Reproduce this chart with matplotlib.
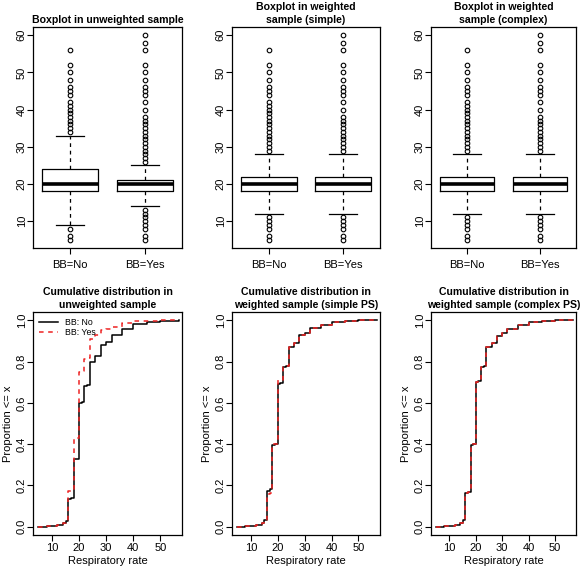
import matplotlib
matplotlib.use("Agg")
import matplotlib.pyplot as plt

plt.rcParams['font.family'] = ['Liberation Sans', 'DejaVu Sans']

groups = ['BB=No', 'BB=Yes']

# boxplot summaries: [BB=No, BB=Yes]
box_titles = ['Boxplot in unweighted sample',
              'Boxplot in weighted\nsample (simple)',
              'Boxplot in weighted\nsample (complex)']
q1 = [[18, 18], [18, 18], [18, 18]]
med = [[20, 20], [20, 20], [20, 20]]
q3 = [[24, 21], [22, 22], [22, 22]]
whislo = [[9, 14], [12, 12], [12, 12]]
whishi = [[33, 25], [28, 28], [28, 28]]

unw_no_out = [5, 6, 8, 34, 35, 36, 37, 38, 39, 40, 41, 42, 44, 45, 46, 48, 50, 52, 56]
unw_yes_out = [5, 6, 8, 9, 10, 11, 12, 13, 26, 27, 28, 29, 30, 31, 32, 33, 34, 35,
               36, 37, 38, 40, 42, 44, 45, 46, 48, 50, 52, 56, 58, 60]
sim_no_out = [5, 6, 8, 9, 10, 11, 29, 30, 31, 32, 33, 34, 35, 36, 37, 38, 39, 40,
              41, 42, 44, 45, 46, 48, 50, 52, 56]
sim_yes_out = [5, 6, 8, 9, 10, 11, 29, 30, 31, 32, 33, 34, 35, 36, 37, 38, 40, 42,
               44, 45, 46, 48, 50, 52, 56, 58, 60]
cpx_no_out = sim_no_out
cpx_yes_out = sim_yes_out
fliers = [[unw_no_out, unw_yes_out], [sim_no_out, sim_yes_out], [cpx_no_out, cpx_yes_out]]

# cumulative distributions
cdf_titles = ['Cumulative distribution in\nunweighted sample',
              'Cumulative distribution in\nweighted sample (simple PS)',
              'Cumulative distribution in\nweighted sample (complex PS)']
rate = [5, 8, 10, 12, 14, 15, 16, 17, 18, 19, 20, 21, 22, 23, 24, 26, 28, 30, 32, 36, 40, 45, 50, 57]
unw_no = [0.0, 0.003, 0.005, 0.01, 0.018, 0.03, 0.133, 0.138, 0.328, 0.33, 0.60, 0.605,
          0.683, 0.688, 0.797, 0.826, 0.878, 0.897, 0.927, 0.956, 0.98, 0.99, 0.997, 1.0]
unw_yes = [0.0, 0.002, 0.004, 0.008, 0.02, 0.03, 0.175, 0.178, 0.43, 0.432, 0.748, 0.752,
           0.813, 0.815, 0.907, 0.927, 0.951, 0.96, 0.967, 0.987, 0.995, 0.998, 1.0, 1.0]
sim_no = [0.0, 0.002, 0.004, 0.008, 0.02, 0.035, 0.174, 0.182, 0.398, 0.403, 0.69, 0.696,
          0.772, 0.777, 0.87, 0.889, 0.927, 0.94, 0.963, 0.976, 0.992, 0.996, 0.999, 1.0]
sim_yes = [0.0, 0.002, 0.004, 0.008, 0.018, 0.03, 0.16, 0.162, 0.40, 0.403, 0.71, 0.712,
           0.772, 0.777, 0.87, 0.889, 0.927, 0.94, 0.963, 0.976, 0.992, 0.996, 0.999, 1.0]
cpx_no = [0.0, 0.002, 0.004, 0.008, 0.018, 0.032, 0.163, 0.168, 0.397, 0.403, 0.70, 0.705,
          0.775, 0.78, 0.87, 0.89, 0.925, 0.94, 0.958, 0.975, 0.99, 0.996, 0.999, 1.0]
cpx_yes = [0.0, 0.002, 0.004, 0.008, 0.018, 0.032, 0.165, 0.168, 0.40, 0.403, 0.70, 0.705,
           0.775, 0.78, 0.87, 0.89, 0.925, 0.94, 0.958, 0.975, 0.99, 0.996, 0.999, 1.0]
cdf_no = [unw_no, sim_no, cpx_no]
cdf_yes = [unw_yes, sim_yes, cpx_yes]

fs = 8
tfs = 7.6
fig = plt.figure(figsize=(5.82, 5.70), dpi=100)
W, H = 582.0, 570.0
cols = [(33, 182), (232, 380), (431, 576)]


def style(ax):
    for s in ax.spines.values():
        s.set_linewidth(0.9)
    ax.tick_params(direction='out', length=4, width=0.8, labelsize=fs, pad=2)
    ax.tick_params(axis='y', pad=0.5)
    for lab in ax.get_yticklabels():
        lab.set_rotation(90)
        lab.set_va('center')


for i, (l, r) in enumerate(cols):
    # boxplots
    ax = fig.add_axes([l / W, 1 - 248 / H, (r - l) / W, (248 - 27) / H])
    stats = []
    for j, g in enumerate(groups):
        stats.append(dict(label=g, q1=q1[i][j], med=med[i][j], q3=q3[i][j],
                          whislo=whislo[i][j], whishi=whishi[i][j], fliers=fliers[i][j]))
    ax.bxp(stats, positions=[1, 2], widths=0.75,
           boxprops=dict(color='black', linewidth=0.9),
           medianprops=dict(color='black', linewidth=2.6),
           whiskerprops=dict(color='black', linewidth=0.9, linestyle=(0, (3, 3))),
           capprops=dict(color='black', linewidth=0.9),
           capwidths=0.38,
           flierprops=dict(marker='o', markerfacecolor='none', markeredgecolor='black',
                           markersize=3.3, markeredgewidth=0.8))
    ax.set_xlim(0.5, 2.5)
    ax.set_ylim(2.8, 62.2)
    ax.set_yticks([10, 20, 30, 40, 50, 60])
    ax.set_title(box_titles[i], fontsize=tfs, fontweight='bold', pad=3, linespacing=1.3)
    style(ax)
    ax.tick_params(axis='x', pad=5)

    # cumulative distributions
    ax = fig.add_axes([l / W, 1 - 535 / H, (r - l) / W, (535 - 312) / H])
    ax.step(rate, cdf_no[i], where='post', color='black', linewidth=1.1, label='BB: No')
    ax.step(rate, cdf_yes[i], where='post', color='#ee2222', linewidth=1.1,
            linestyle=(0, (3, 3)), label='BB: Yes')
    ax.set_xlim(3, 58)
    ax.set_ylim(-0.04, 1.04)
    ax.set_xticks([10, 20, 30, 40, 50])
    ax.set_yticks([0.0, 0.2, 0.4, 0.6, 0.8, 1.0])
    ax.set_yticklabels(['0.0', '0.2', '0.4', '0.6', '0.8', '1.0'])
    ax.set_title(cdf_titles[i], fontsize=tfs, fontweight='bold', pad=3, linespacing=1.3)
    ax.set_xlabel('Respiratory rate', fontsize=fs, labelpad=2)
    ax.set_ylabel('Proportion <= x', fontsize=fs, labelpad=3)
    style(ax)
    if i == 0:
        ax.legend(loc='upper left', frameon=False, fontsize=6.3, handlelength=2.1,
                  borderaxespad=0.3, labelspacing=0.15, handletextpad=0.9)

fig.savefig('out.png', dpi=100)
